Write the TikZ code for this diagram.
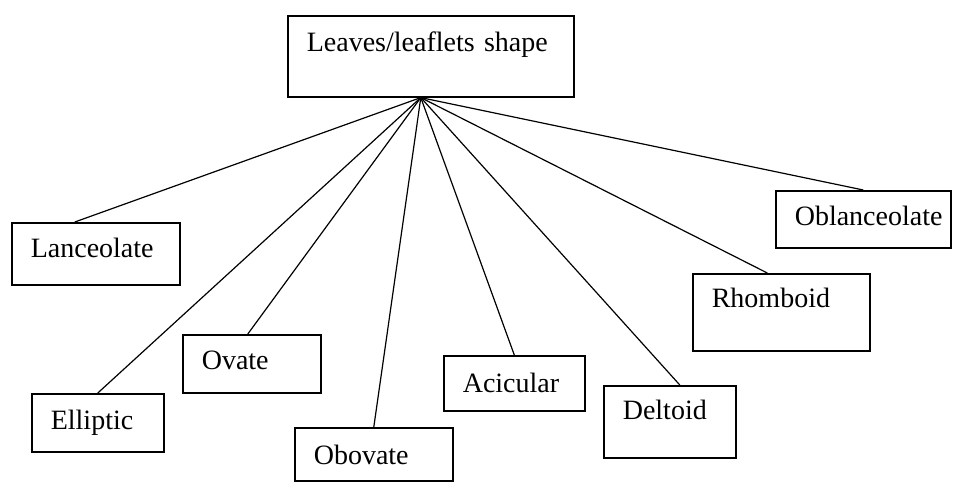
\documentclass[tikz,border=0pt]{standalone}
\usepackage{fontspec}
\setmainfont{Liberation Serif}
\usetikzlibrary{positioning,calc}
\tikzset{
  shapebox/.style={
    rectangle,
    draw=black, line width=0.8pt,
    anchor=north west,
    align=left,
    inner xsep=9.5pt,
    inner ysep=0pt,
    font=\fontsize{14}{16}\selectfont},
  branch/.style={draw, line width=0.6pt},
}
\begin{document}
\begin{tikzpicture}[
    x=0.5pt, y=-0.5pt,
    every node/.style={color=black}
    ]
    \useasboundingbox (0,0) rectangle (954,482);

    %root
    \node[shapebox, text width=124pt, text height=18pt, text depth=22.5pt]
        (root) at (287,15) {Leaves/leaflets shape};
    \coordinate (hub) at ([xshift=-5pt]root.south);

    %leaf shapes
    \node[shapebox, text width=65pt, text height=17.5pt, text depth=13.5pt]
        (lanceolate) at (11,222) {Lanceolate};
    \node[shapebox, text width=47pt, text height=18pt, text depth=11pt]
        (elliptic) at (31,393) {Elliptic};
    \node[shapebox, text width=50pt, text height=17.5pt, text depth=11.5pt]
        (ovate) at (182,334) {Ovate};
    \node[shapebox, text width=60pt, text height=18.5pt, text depth=8pt]
        (obovate) at (294,427) {Obovate};
    \node[shapebox, text width=51.5pt, text height=18.5pt, text depth=9pt]
        (acicular) at (443,355) {Acicular};
    \node[shapebox, text width=47pt, text height=17pt, text depth=19pt]
        (deltoid) at (603,385) {Deltoid};
    \node[shapebox, text width=69.5pt, text height=17pt, text depth=21.5pt]
        (rhomboid) at (692,273) {Rhomboid};
    \node[shapebox, text width=68.5pt, text height=17.5pt, text depth=11pt]
        (oblanceolate) at (775,190) {Oblanceolate};

    %branches
    \draw[branch] (hub) -- ([xshift=-10.5pt]lanceolate.north);
    \draw[branch] (hub) -- (elliptic.north);
    \draw[branch] (hub) -- ([xshift=-2pt]ovate.north);
    \draw[branch] (hub) -- (obovate.north);
    \draw[branch] (hub) -- (acicular.north);
    \draw[branch] (hub) -- ([xshift=5pt]deltoid.north);
    \draw[branch] (hub) -- ([xshift=-7pt]rhomboid.north);
    \draw[branch] (hub) -- (oblanceolate.north);

\end{tikzpicture}
\end{document}
